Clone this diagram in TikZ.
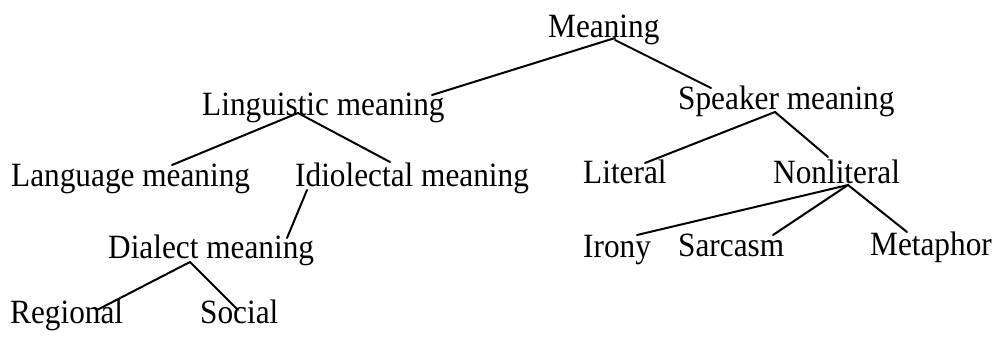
\documentclass[tikz,border=0pt]{standalone}
\usepackage{fontspec}
\setmainfont{Liberation Serif}[FakeStretch=0.92]
\begin{document}
\begin{tikzpicture}[x=1pt,y=-1pt,
  lbl/.style={anchor=base west, inner sep=0pt, font=\fontsize{34}{38}\selectfont},
  edge/.style={line width=2pt, line cap=round}]
\useasboundingbox (0,0) rectangle (993,337);
\node[lbl] (m)    at (548,38)  {Meaning};
\node[lbl] (lm)   at (202,115) {Linguistic meaning};
\node[lbl] (sm)   at (678,110) {Speaker meaning};
\node[lbl] (lang) at (11,186)  {Language meaning};
\node[lbl] (idio) at (295,186) {Idiolectal meaning};
\node[lbl] (lit)  at (583,183) {Literal};
\node[lbl] (nl)   at (773,183) {Nonliteral};
\node[lbl] (dial) at (108,258) {Dialect meaning};
\node[lbl] (ir)   at (583,257) {Irony};
\node[lbl] (sar)  at (678,256) {Sarcasm};
\node[lbl] (met)  at (870,255) {Metaphor};
\node[lbl] (reg)  at (10,323)  {Regional};
\node[lbl] (soc)  at (200,323) {Social};
\draw[edge] ([shift={(67,0)}]m.base west) -- ([shift={(230,-20)}]lm.base west);
\draw[edge] ([shift={(67,2)}]m.base west) -- ([shift={(33,-22)}]sm.base west);
\draw[edge] ([shift={(96,-2)}]lm.base west) -- ([shift={(161,-21)}]lang.base west);
\draw[edge] ([shift={(96,-2)}]lm.base west) -- ([shift={(95,-24)}]idio.base west);
\draw[edge] ([shift={(12,4)}]idio.base west) -- ([shift={(179,-20)}]dial.base west);
\draw[edge] ([shift={(82,4)}]dial.base west) -- ([shift={(87,-13)}]reg.base west);
\draw[edge] ([shift={(82,4)}]dial.base west) -- ([shift={(38,-13)}]soc.base west);
\draw[edge] ([shift={(97,2)}]sm.base west) -- ([shift={(62,-20)}]lit.base west);
\draw[edge] ([shift={(97,2)}]sm.base west) -- ([shift={(55,-26)}]nl.base west);
\draw[edge] ([shift={(75,2)}]nl.base west) -- ([shift={(54,-22)}]ir.base west);
\draw[edge] ([shift={(75,2)}]nl.base west) -- ([shift={(95,-21)}]sar.base west);
\draw[edge] ([shift={(75,2)}]nl.base west) -- ([shift={(37,-23)}]met.base west);
\end{tikzpicture}
\end{document}
